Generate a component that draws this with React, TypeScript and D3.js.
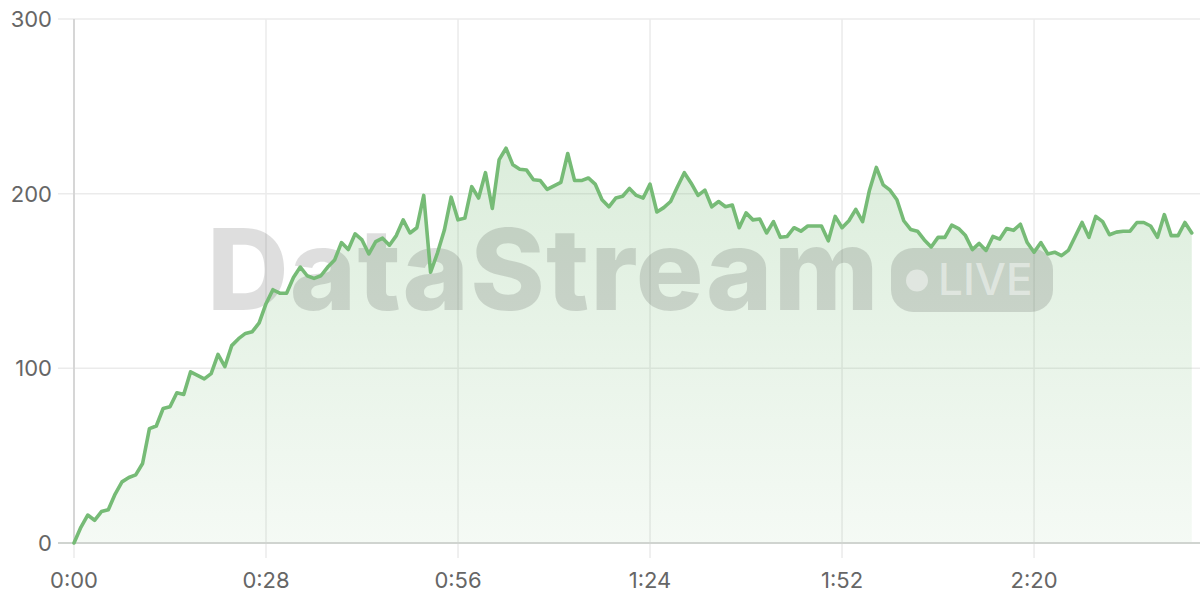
import React from "react";
import * as d3 from "d3";

// time in seconds, one sample per second
const values: number[] = [
  0, 9, 16, 13, 18, 19, 28, 35, 37.5, 39,
  45.5, 65.5, 67, 77, 78, 86, 85, 98, 96, 94,
  97, 108, 101, 113, 117, 120, 121, 126, 137, 145,
  143, 143, 152, 158, 153, 151.5, 153, 158, 162, 172,
  168, 177, 173.5, 165.5, 172.5, 174.5, 170.5, 176, 185, 177.5,
  180.5, 199, 155, 166, 179, 198, 185, 186, 204, 197.5,
  212, 191.5, 219.5, 226, 216.5, 214, 213.5, 208, 207.5, 202.5,
  204.5, 206.5, 223, 207.5, 207.5, 209, 205.5, 196.5, 192.5, 197.5,
  198.5, 203, 199, 197.5, 205.5, 189.5, 192, 195.5, 204, 212,
  206, 199, 202, 192.5, 195.5, 192.5, 193.5, 180.5, 189, 185,
  185.5, 177.5, 184, 175, 175.5, 180.5, 178.5, 181.5, 181.5, 181.5,
  173, 187, 180.5, 184.5, 191, 184, 202, 215, 205, 202,
  196.5, 184.5, 179.5, 178.5, 173.5, 169.5, 175, 175, 182, 180,
  176, 168, 171.5, 167.5, 175.5, 174, 180, 179, 182.5, 172,
  166.5, 172, 165.5, 166.5, 164.5, 167.5, 175.5, 183.5, 175, 187,
  184, 176.5, 178, 178.5, 178.5, 183.5, 183.5, 181.5, 175, 188,
  176, 176, 183.5, 177.5,
];
const times: number[] = values.map((_, i) => i);
const xTicks: number[] = [0, 28, 56, 84, 112, 140];
const yTicks: number[] = [0, 100, 200, 300];
const xMax = 164.2;
const yMax = 300;

const fmtTime = (s: number) => `${Math.floor(s / 60)}:${String(s % 60).padStart(2, "0")}`;

export default function App() {
  const W = 1200;
  const H = 600;
  const left = 74;
  const right = 1200;
  const top = 19;
  const bottom = 543;

  const x = d3.scaleLinear().domain([0, xMax]).range([left, right]);
  const y = d3.scaleLinear().domain([0, yMax]).range([bottom, top]);

  const pts: [number, number][] = times.map((t, i) => [t, values[i]]);
  const line = d3
    .line<[number, number]>()
    .x((d) => x(d[0]))
    .y((d) => y(d[1]));
  const area = d3
    .area<[number, number]>()
    .x((d) => x(d[0]))
    .y0(y(0))
    .y1((d) => y(d[1]));

  const font = "Inter, 'Noto Sans', sans-serif";
  const green = "#76bb76";

  return (
    <div style={{ position: "fixed", left: 0, top: 0, width: W, height: H, background: "#fff" }}>
      <svg width={W} height={H} style={{ display: "block" }}>
        <defs>
          <linearGradient id="fillGrad" x1="0" y1={top} x2="0" y2={bottom} gradientUnits="userSpaceOnUse">
            <stop offset="0%" stopColor="#6db66d" stopOpacity={0.3} />
            <stop offset="100%" stopColor="#6db66d" stopOpacity={0.07} />
          </linearGradient>
        </defs>

        {/* horizontal grid */}
        {yTicks.map((t) =>
          t === 0 ? null : (
            <line key={"hy" + t} x1={58} x2={right} y1={y(t)} y2={y(t)} stroke="#ebebeb" strokeWidth={1.5} />
          )
        )}
        {/* vertical grid */}
        {xTicks.map((t) => (
          <line key={"vx" + t} x1={x(t)} x2={x(t)} y1={top} y2={558} stroke="#ebebeb" strokeWidth={1.5} />
        ))}

        {/* area */}
        <path d={area(pts) || ""} fill="url(#fillGrad)" />

        {/* watermark */}
        <g fill="#000" fillOpacity={0.13}>
          <text x={207} y={310} fontFamily={font} fontWeight={800} fontSize={113} letterSpacing={1.2}>
            DataStream
          </text>
          <rect x={891} y={248} width={162} height={64} rx={22} ry={22} />
        </g>
        <g fill="#fff" fillOpacity={0.45}>
          <circle cx={917} cy={280.5} r={11} />
          <text x={938} y={295} fontFamily={font} fontWeight={500} fontSize={44}>
            LIVE
          </text>
        </g>

        {/* axes */}
        <line x1={left} x2={left} y1={top} y2={bottom} stroke="#d6d6d6" strokeWidth={2} />
        <line x1={58} x2={right} y1={bottom} y2={bottom} stroke="#d0d4d0" strokeWidth={2} />

        {/* line */}
        <path d={line(pts) || ""} fill="none" stroke={green} strokeWidth={3.6} strokeLinejoin="round" strokeLinecap="round" />

        {/* labels */}
        {yTicks.map((t) => (
          <text
            key={"yl" + t}
            x={52}
            y={y(t)}
            dy="0.36em"
            textAnchor="end"
            fontFamily={font}
            fontSize={22}
            fill="#666"
          >
            {t}
          </text>
        ))}
        {xTicks.map((t) => (
          <text
            key={"xl" + t}
            x={x(t)}
            y={588}
            textAnchor="middle"
            fontFamily={font}
            fontSize={22}
            fill="#666"
          >
            {fmtTime(t)}
          </text>
        ))}
      </svg>
    </div>
  );
}
